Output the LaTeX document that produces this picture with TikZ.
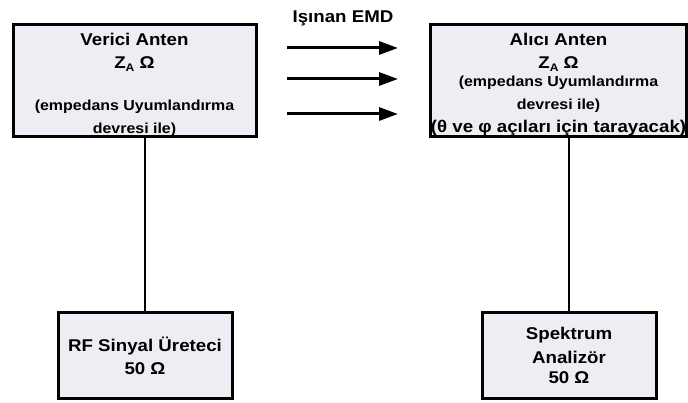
\documentclass[tikz,border=0pt]{standalone}
\usepackage{fontspec}
\setmainfont{Liberation Sans}[FakeStretch=1.1]
\usetikzlibrary{arrows.meta}
\definecolor{kuturenk}{RGB}{239,237,243}
\newcommand{\kucuk}{\fontsize{14.5}{23}\selectfont}
\newcommand{\altind}[1]{\raisebox{-3pt}{\fontsize{11}{11}\selectfont #1}}
\newcommand{\ust}{\rule{0pt}{20.5pt}}

\begin{document}
\begin{tikzpicture}[x=1pt, y=-1pt,
    kutu/.style={draw, line width=3pt, fill=kuturenk, align=center, inner sep=0pt, font=\bfseries\fontsize{17}{23}\selectfont},
    hat/.style={line width=2.5pt},
    dalga/.style={line width=3pt, -{Triangle[length=19pt, width=13pt]}}]
    \useasboundingbox (0,0) rectangle (688,403);
    \node[kutu, minimum width=243pt, minimum height=109pt] (verici) at (134.5,80.5) {\ust Verici Anten\\Z\altind{A} Ω\\[19pt]{\kucuk (empedans Uyumlandırma}\\{\kucuk devresi ile)}};
    \node[kutu, minimum width=253pt, minimum height=109pt] (alici) at (558.5,80.5) {\ust Alıcı Anten\\Z\altind{A} Ω\\[-5pt]{\kucuk (empedans Uyumlandırma}\\{\kucuk devresi ile)}\\(θ ve φ açıları için tarayacak)};
    \node[kutu, minimum width=174pt, minimum height=85pt] (rf) at (145,355.5) {RF Sinyal Üreteci\\50 Ω};
    \node[kutu, minimum width=174pt, minimum height=85pt] (spektrum) at (569,355.5) {Spektrum\\[1pt]Analizör\\[-3pt]50 Ω};
    \draw[hat] (verici.south -| rf.north) -- (rf.north);
    \draw[hat] (alici.south -| spektrum.north) -- (spektrum.north);
    \foreach \y [count=\i] in {48,79,114} {
        \coordinate (d\i b) at (287,\y);
        \coordinate (d\i s) at (398,\y);
        \draw[dalga] (d\i b) -- (d\i s);
    }
    \node[font=\bfseries\fontsize{17}{17}\selectfont, anchor=base] (emd) at (343,23) {Işınan EMD};
\end{tikzpicture}
\end{document}
